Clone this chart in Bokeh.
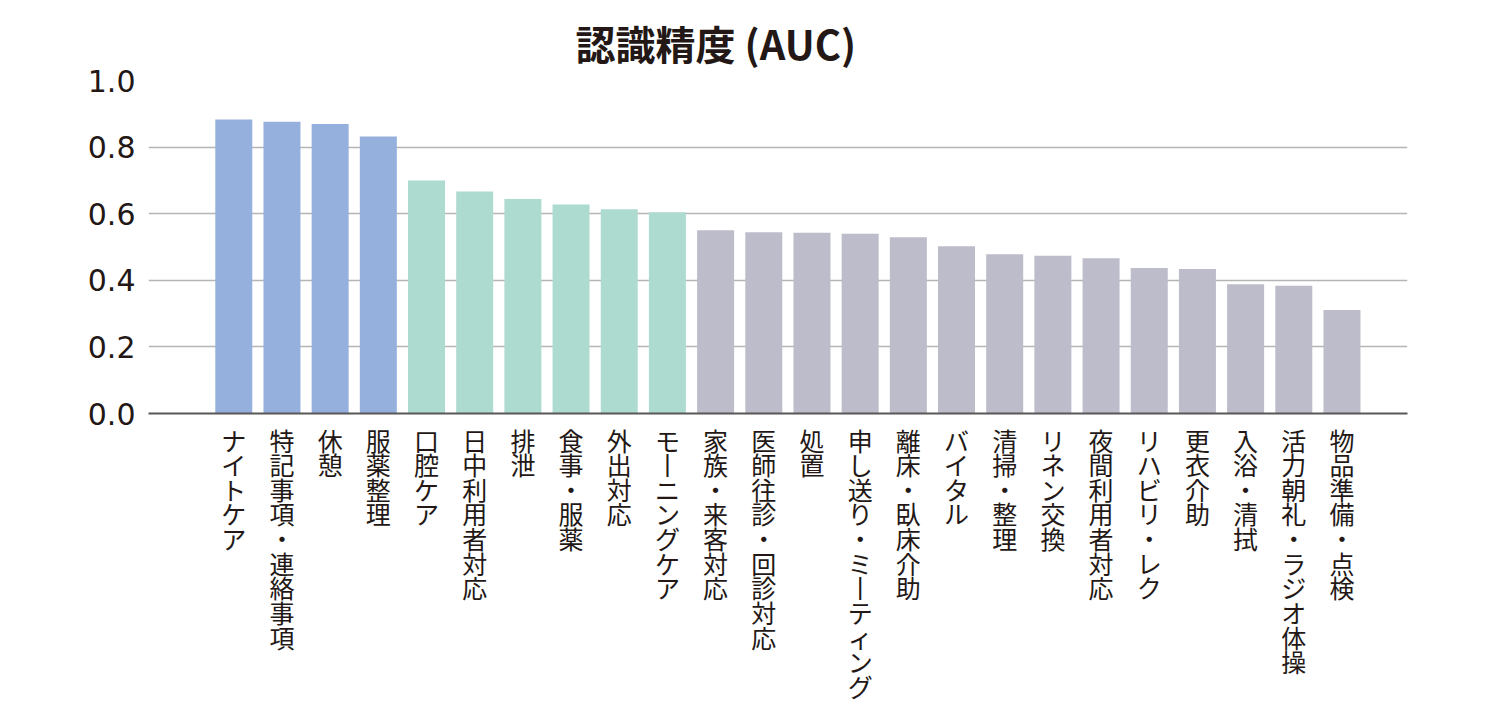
from bokeh.plotting import figure
from bokeh.models import ColumnDataSource, FixedTicker, Range1d
from bokeh.transform import factor_cmap
from bokeh.embed import file_html
from bokeh.resources import INLINE

categories = ["ナイトケア", "特記事項・連絡事項", "休憩", "服薬整理", "口腔ケア", "日中利用者対応",
              "排泄", "食事・服薬", "外出対応", "モーニングケア", "家族・来客対応", "医師往診・回診対応",
              "処置", "申し送り・ミーティング", "離床・臥床介助", "バイタル", "清掃・整理", "リネン交換",
              "夜間利用者対応", "リハビリ・レク", "更衣介助", "入浴・清拭", "活力朝礼・ラジオ体操", "物品準備・点検"]
auc = [0.883, 0.876, 0.869, 0.832, 0.700, 0.667, 0.644, 0.628, 0.613, 0.604, 0.550, 0.544,
       0.543, 0.540, 0.529, 0.502, 0.478, 0.474, 0.466, 0.437, 0.434, 0.388, 0.384, 0.311]
groups = ["high"] * 4 + ["mid"] * 6 + ["low"] * 14
group_names = ["high", "mid", "low"]
group_colors = ["#95b0dd", "#aedbd0", "#bcbcca"]
y_ticks = [0.0, 0.2, 0.4, 0.6, 0.8, 1.0]
title_text = "認識精度 (AUC)"

FONT = "Noto Sans CJK JP"
INK = "#231815"


def vertical(s):
    return "\n".join("丨" if ch == "ー" else ch for ch in s)


xs = list(range(len(categories)))
src = ColumnDataSource(dict(x=xs, auc=auc, group=groups))

p = figure(frame_width=1259, frame_height=333,
           min_border_left=148, min_border_right=83, min_border_top=80, min_border_bottom=302,
           x_range=Range1d(-1.77, 24.36), y_range=Range1d(0, 1.0),
           output_backend="svg", toolbar_location=None, title=title_text)
p.background_fill_color = "white"
p.border_fill_color = "white"
p.outline_line_color = None

p.title.text_font = FONT
p.title.text_font_size = "40px"
p.title.text_font_style = "bold"
p.title.text_color = INK
p.title.align = "left"
p.title.offset = 427
p.title.standoff = 17

p.vbar(x="x", top="auc", width=0.768, source=src, line_color=None,
       fill_color=factor_cmap("group", palette=group_colors, factors=group_names))

# x axis: vertical (tategaki) category labels
p.xaxis.ticker = FixedTicker(ticks=xs)
p.xaxis.major_label_overrides = {i: vertical(c) for i, c in zip(xs, categories)}
p.xaxis.major_label_text_font = FONT
p.xaxis.major_label_text_font_size = "25px"
p.xaxis.major_label_text_line_height = 0.685
p.xaxis.major_label_text_color = INK
p.xaxis.major_label_standoff = 8
p.xaxis.major_tick_line_color = None
p.xaxis.major_tick_out = 0
p.xaxis.major_tick_in = 0
p.xaxis.minor_tick_line_color = None
p.xaxis.axis_line_color = "#595757"
p.xaxis.axis_line_width = 2

p.yaxis.ticker = FixedTicker(ticks=y_ticks)
p.yaxis.major_label_overrides = {t: f"{t:.1f}" for t in y_ticks}
p.yaxis.axis_line_color = None
p.yaxis.major_tick_line_color = None
p.yaxis.major_tick_out = 0
p.yaxis.major_tick_in = 0
p.yaxis.minor_tick_line_color = None
p.yaxis.major_label_text_font = "DejaVu Sans"
p.yaxis.major_label_text_font_size = "30px"
p.yaxis.major_label_text_color = INK
p.yaxis.major_label_standoff = 13

p.xgrid.grid_line_color = None
p.ygrid.ticker = FixedTicker(ticks=y_ticks)
p.ygrid.grid_line_color = "#b5b5b6"
p.ygrid.grid_line_width = 1.5

open("out.html", "w").write(file_html(p, INLINE))
